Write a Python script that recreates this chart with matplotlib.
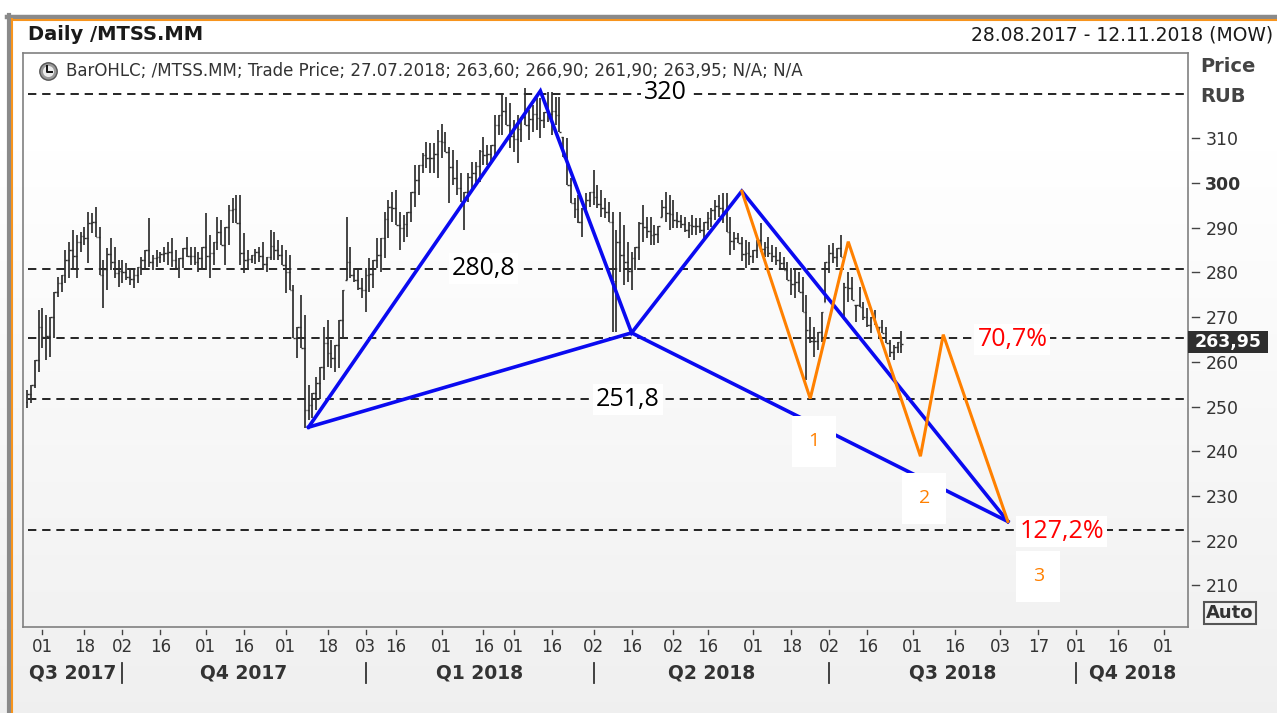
import numpy as np
import pandas as pd
import matplotlib
matplotlib.use("Agg")
import matplotlib.pyplot as plt
import matplotlib.transforms as mtransforms
from matplotlib.lines import Line2D
from matplotlib.patches import Rectangle

# ------------------------------------------------------------------ data
holidays = ["2017-11-06", "2018-01-01", "2018-01-02", "2018-01-08", "2018-02-23",
            "2018-03-08", "2018-05-01", "2018-05-09", "2018-06-12"]
first_day, last_day, axis_end = "2017-08-28", "2018-07-27", "2018-11-16"

highs = [
    253.8, 254.9, 260.5, 271.7, 272.1, 270.5, 270.1, 275.7, 279.0, 279.5,
    285.0, 286.8, 289.5, 288.4, 289.0, 290.2, 293.5, 293.3, 294.6, 290.2,
    282.8, 285.5, 287.7, 285.7, 282.8, 282.8, 282.1, 281.0, 280.6, 281.3,
    283.5, 285.0, 292.2, 284.0, 285.0, 284.6, 285.7, 286.8, 287.7, 285.0,
    283.3, 285.5, 288.0, 285.7, 285.7, 284.6, 285.7, 293.3, 288.4, 286.8,
    292.4, 291.7, 290.2, 295.1, 296.7, 297.3, 297.3, 288.8, 285.0, 284.0,
    285.2, 285.7, 286.8, 283.5, 289.5, 289.1, 287.3, 286.2, 285.0, 284.0,
    277.2, 267.9, 275.0, 270.5, 254.9, 253.1, 256.7, 258.9, 267.9, 269.4,
    265.0, 263.8, 269.4, 276.1, 292.4, 285.7, 281.0, 280.6, 278.8, 281.0,
    283.3, 282.8, 287.7, 287.7, 293.5, 296.2, 298.0, 298.4, 293.5, 292.9,
    293.5, 298.0, 304.0, 304.0, 306.7, 309.2, 309.0, 309.0, 311.8, 313.2,
    311.4, 308.0, 307.4, 305.1, 302.2, 298.0, 302.2, 304.7, 304.7, 307.4,
    310.3, 308.5, 308.5, 315.2, 315.2, 319.6, 319.2, 317.9, 314.1, 315.2,
    314.7, 321.2, 316.3, 317.4, 319.0, 319.0, 315.8, 320.3, 320.3, 319.2,
    319.2, 310.3, 310.0, 301.1, 296.7, 297.3, 294.4, 297.8, 298.0, 302.9,
    299.6, 298.4, 296.7, 295.8, 293.5, 289.5, 293.5, 290.6, 286.8, 284.6,
    285.7, 291.3, 295.1, 292.4, 292.4, 290.6, 290.4, 296.2, 298.0, 297.3,
    296.2, 293.5, 292.9, 292.4, 291.3, 292.9, 292.2, 292.2, 291.3, 293.5,
    294.4, 296.2, 297.3, 297.8, 297.8, 292.4, 289.1, 288.8, 288.0, 287.3,
    286.8, 285.0, 287.3, 291.1, 286.8, 288.0, 286.2, 285.7, 284.6, 283.5,
    282.4, 281.0, 280.6, 280.1, 279.0, 275.0, 270.1, 267.9, 266.7, 271.2,
    282.4, 286.2, 286.6, 285.5, 288.4, 277.7, 280.1, 279.0, 272.8, 276.8,
    273.4, 272.1, 270.1, 271.7, 267.9, 269.4, 267.9, 265.0, 263.8, 264.5,
    266.9]

lows = [
    249.7, 250.9, 254.2, 257.8, 263.2, 260.5, 261.2, 265.4, 274.6, 275.7,
    277.7, 278.8, 280.6, 278.8, 284.6, 286.2, 282.1, 288.8, 288.0, 279.5,
    272.1, 276.1, 280.6, 278.8, 276.8, 277.7, 278.3, 277.2, 276.6, 277.7,
    279.5, 280.6, 281.3, 280.6, 281.3, 282.1, 282.4, 281.7, 281.3, 280.6,
    278.8, 281.0, 283.5, 281.7, 281.7, 280.1, 280.6, 280.6, 278.8, 281.7,
    285.0, 286.2, 281.7, 286.2, 291.1, 291.1, 281.7, 279.9, 280.6, 282.1,
    281.9, 282.4, 280.6, 280.1, 282.8, 282.8, 282.8, 281.7, 275.4, 276.1,
    265.4, 260.9, 263.2, 245.3, 247.1, 247.5, 249.3, 251.6, 256.0, 258.9,
    258.7, 257.8, 258.7, 265.4, 278.3, 278.8, 277.9, 276.1, 274.3, 271.2,
    275.7, 276.6, 281.0, 280.1, 283.3, 287.7, 291.3, 290.6, 285.0, 286.8,
    288.0, 291.3, 294.6, 297.3, 302.2, 303.3, 302.2, 302.2, 301.1, 305.6,
    306.9, 295.5, 299.6, 297.3, 295.8, 289.5, 295.8, 298.0, 299.6, 300.2,
    304.0, 304.0, 304.5, 305.6, 310.7, 310.7, 312.9, 307.8, 306.9, 304.5,
    309.2, 312.9, 309.6, 311.4, 311.8, 310.0, 312.3, 313.6, 310.7, 312.9,
    311.4, 305.8, 299.6, 295.5, 292.2, 291.1, 288.0, 293.3, 294.6, 295.1,
    294.4, 292.4, 292.2, 291.3, 266.7, 266.7, 280.1, 277.2, 277.9, 276.1,
    280.6, 282.8, 286.8, 287.7, 286.2, 286.2, 286.6, 292.4, 291.3, 289.5,
    290.0, 290.0, 290.0, 289.1, 287.7, 288.4, 288.4, 288.8, 287.7, 289.5,
    290.2, 291.7, 292.4, 291.1, 289.1, 283.9, 285.0, 286.6, 282.5, 281.0,
    281.7, 282.1, 283.3, 284.6, 283.5, 283.5, 282.4, 281.7, 281.0, 280.6,
    278.3, 275.0, 274.3, 275.7, 271.2, 256.0, 264.3, 261.2, 262.7, 264.5,
    273.4, 279.9, 282.1, 281.3, 283.5, 269.4, 273.4, 273.9, 269.0, 272.3,
    269.4, 267.9, 266.5, 268.3, 265.4, 266.5, 264.3, 261.2, 260.5, 262.1,
    261.9]

opens = [
    251.0, 252.9, 254.9, 260.5, 267.7, 265.5, 265.7, 270.1, 275.7, 277.6,
    279.5, 282.8, 285.1, 283.6, 286.8, 288.2, 287.8, 291.1, 291.3, 288.0,
    279.5, 280.8, 284.2, 282.3, 279.8, 280.3, 280.2, 279.1, 278.6, 279.5,
    281.3, 282.8, 285.0, 282.3, 283.2, 283.4, 284.1, 284.3, 284.5, 282.8,
    281.1, 283.3, 285.5, 283.7, 283.7, 282.4, 283.2, 285.7, 283.6, 284.3,
    286.8, 289.0, 286.2, 290.2, 293.9, 294.2, 291.1, 284.4, 282.8, 283.1,
    284.0, 284.6, 283.7, 281.8, 283.5, 286.0, 285.1, 284.0, 281.7, 280.1,
    276.1, 265.4, 267.9, 263.2, 249.3, 250.3, 253.0, 255.3, 258.9, 264.2,
    261.9, 260.8, 263.8, 269.4, 278.3, 282.3, 279.5, 278.4, 276.6, 276.1,
    279.5, 279.7, 282.8, 283.9, 287.7, 292.0, 294.7, 294.5, 290.6, 289.9,
    290.8, 293.5, 298.0, 300.7, 304.0, 306.3, 305.6, 305.6, 306.5, 309.4,
    309.2, 306.9, 303.5, 301.2, 299.0, 295.8, 298.0, 301.4, 302.2, 303.8,
    307.2, 306.3, 306.5, 308.5, 313.0, 315.2, 316.1, 312.9, 310.5, 309.9,
    312.0, 314.7, 313.0, 314.4, 315.4, 314.5, 314.1, 315.8, 315.5, 316.1,
    315.3, 310.3, 305.8, 299.6, 295.5, 294.2, 291.2, 294.4, 296.3, 298.0,
    297.0, 295.4, 294.5, 293.6, 291.3, 278.1, 286.8, 283.9, 282.4, 280.4,
    283.2, 285.7, 291.0, 290.1, 289.3, 288.4, 288.5, 292.4, 294.7, 293.4,
    293.1, 291.8, 291.5, 290.8, 289.5, 290.7, 290.3, 290.5, 289.5, 291.3,
    292.3, 294.0, 294.9, 294.5, 293.5, 289.1, 287.1, 287.7, 286.6, 284.2,
    284.3, 283.6, 285.0, 287.3, 285.2, 285.8, 284.3, 283.7, 282.8, 282.1,
    280.6, 278.3, 277.5, 277.9, 275.7, 271.2, 267.2, 264.6, 264.7, 266.7,
    273.4, 282.4, 284.4, 283.4, 285.5, 277.7, 276.8, 276.5, 272.8, 272.8,
    272.3, 270.0, 268.3, 270.0, 267.9, 267.9, 266.5, 264.3, 262.2, 263.3,
    263.6]

closes = [
    252.9, 254.9, 260.5, 267.7, 265.5, 265.7, 270.1, 275.7, 277.6, 279.5,
    282.8, 285.1, 283.6, 286.8, 288.2, 287.8, 291.1, 291.3, 288.0, 279.5,
    280.8, 284.2, 282.3, 279.8, 280.3, 280.2, 279.1, 278.6, 279.5, 281.3,
    282.8, 285.0, 282.3, 283.2, 283.4, 284.1, 284.3, 284.5, 282.8, 281.1,
    283.3, 285.5, 283.7, 283.7, 282.4, 283.2, 285.7, 283.6, 284.3, 286.8,
    289.0, 286.2, 290.2, 293.9, 294.2, 291.1, 284.4, 282.8, 283.1, 284.0,
    284.6, 283.7, 281.8, 283.5, 286.0, 285.1, 284.0, 281.7, 280.1, 276.1,
    265.4, 267.9, 263.2, 249.3, 250.3, 253.0, 255.3, 258.9, 264.2, 261.9,
    260.8, 263.8, 269.4, 276.1, 282.3, 279.5, 278.4, 276.6, 276.1, 279.5,
    279.7, 282.8, 283.9, 287.7, 292.0, 294.7, 294.5, 290.6, 289.9, 290.8,
    293.5, 298.0, 300.7, 304.0, 306.3, 305.6, 305.6, 306.5, 309.4, 309.2,
    306.9, 303.5, 301.2, 299.0, 295.8, 298.0, 301.4, 302.2, 303.8, 307.2,
    306.3, 306.5, 308.5, 313.0, 315.2, 316.1, 312.9, 310.5, 309.9, 312.0,
    314.7, 313.0, 314.4, 315.4, 314.5, 314.1, 315.8, 315.5, 316.1, 315.3,
    311.4, 305.8, 299.6, 295.5, 294.2, 291.2, 294.4, 296.3, 298.0, 297.0,
    295.4, 294.5, 293.6, 291.3, 278.1, 286.8, 283.9, 282.4, 280.4, 283.2,
    285.7, 291.0, 290.1, 289.3, 288.4, 288.5, 290.4, 294.7, 293.4, 293.1,
    291.8, 291.5, 290.8, 289.5, 290.7, 290.3, 290.5, 289.5, 291.3, 292.3,
    294.0, 294.9, 294.5, 293.5, 289.1, 287.1, 287.7, 286.6, 284.2, 284.3,
    283.6, 285.0, 287.3, 285.2, 285.8, 284.3, 283.7, 282.8, 282.1, 280.6,
    278.3, 277.5, 277.9, 275.7, 271.2, 267.2, 264.6, 264.7, 266.7, 271.2,
    282.4, 284.4, 283.4, 285.5, 283.5, 276.8, 276.5, 273.9, 272.8, 272.3,
    270.0, 268.3, 270.0, 268.3, 267.9, 266.5, 264.3, 262.2, 263.3, 264.4,
    263.95]

# harmonic pattern (blue) X, A, B, C, D
blue_dates = ["2017-12-11", "2018-03-13", "2018-04-16", "2018-05-29", "2018-09-05"]
blue_prices = [245.4, 320.6, 266.5, 298.2, 224.3]
# orange wave path
orange_dates = ["2018-05-29", "2018-06-25", "2018-07-09", "2018-08-03", "2018-08-13", "2018-09-05"]
orange_prices = [298.2, 251.8, 286.9, 238.9, 266.1, 224.3]

levels = [320.0, 280.8, 265.4, 251.8, 222.4]
level_labels = ["320", "280,8", "251,8"]
level_label_dates = ["2018-04-27", "2018-02-16", "2018-04-13"]
level_label_prices = [320.3, 280.8, 251.5]
pct_labels = ["70,7%", "127,2%"]
pct_label_dates = ["2018-08-24", "2018-09-10"]
pct_label_prices = [265.1, 222.0]
wave_labels = ["1", "2", "3"]
wave_label_dates = ["2018-06-26", "2018-08-06", "2018-09-17"]
wave_label_prices = [242.3, 229.5, 212.1]

tick_dates = ["2017-09-01", "2017-09-18", "2017-10-02", "2017-10-16", "2017-11-01",
              "2017-11-16", "2017-12-01", "2017-12-18", "2018-01-03", "2018-01-16",
              "2018-02-01", "2018-02-16", "2018-03-01", "2018-03-16", "2018-04-02",
              "2018-04-16", "2018-05-02", "2018-05-16", "2018-06-01", "2018-06-18",
              "2018-07-02", "2018-07-16", "2018-08-01", "2018-08-16", "2018-09-03",
              "2018-09-17", "2018-10-01", "2018-10-16", "2018-11-01"]
quarter_starts = ["2017-10-01", "2018-01-01", "2018-04-01", "2018-07-01", "2018-10-01"]
quarter_labels = ["Q3 2017", "Q4 2017", "Q1 2018", "Q2 2018", "Q3 2018", "Q4 2018"]
y_ticks = [210, 220, 230, 240, 250, 260, 270, 280, 290, 300, 310]
last_price = 263.95
legend_text = ("BarOHLC; /MTSS.MM; Trade Price; 27.07.2018; 263,60; 266,90; "
               "261,90; 263,95; N/A; N/A")

# ------------------------------------------------------------------ calendar axis
hol = pd.to_datetime(holidays)
trade_days = pd.bdate_range(first_day, last_day)
trade_days = trade_days[~trade_days.isin(hol)]
future_days = pd.bdate_range(pd.Timestamp(last_day) + pd.offsets.BDay(1), axis_end)
calendar = trade_days.append(future_days)
pos_of = {d: i for i, d in enumerate(calendar)}


def xpos(d):
    return pos_of[pd.Timestamp(d)]


x = np.array([xpos(d) for d in trade_days], dtype=float)
highs = np.array(highs); lows = np.array(lows)
opens = np.array(opens); closes = np.array(closes)

# ------------------------------------------------------------------ figure
W, H = 1277, 713
fig = plt.figure(figsize=(W / 100, H / 100), dpi=100)
fig.patch.set_facecolor("white")


def fx(px):
    return px / W


def fy(py):
    return 1 - py / H


# background gradient
bg = fig.add_axes([0, 0, 1, 1], zorder=0)
bg.set_axis_off()
rows = np.arange(H)
t = np.clip((rows - 150) / (H - 150), 0, 1)
shade = 1 - t * 0.06
grad = np.repeat(shade[:, None, None], 3, axis=2)
bg.imshow(grad, aspect="auto", extent=[0, 1, 0, 1], origin="upper")
bg.set_xlim(0, 1); bg.set_ylim(0, 1)

# frame
fig.add_artist(Line2D([fx(7), 1.0], [fy(16.5), fy(16.5)], transform=fig.transFigure,
                      color="#8a8a8a", lw=3.2, zorder=1))
fig.add_artist(Line2D([fx(11), 1.0], [fy(20.2), fy(20.2)], transform=fig.transFigure,
                      color="#f7941d", lw=1.5, zorder=1))
fig.add_artist(Line2D([fx(9), fx(9)], [fy(14.5), 0], transform=fig.transFigure,
                      color="#8a8a8a", lw=3.0, zorder=1))
fig.add_artist(Line2D([fx(12.3), fx(12.3)], [fy(19), 0], transform=fig.transFigure,
                      color="#f7941d", lw=1.5, zorder=1))

# main axes
L, R, T, B = 23, 1188, 53, 627
ax = fig.add_axes([fx(L), fy(B), fx(R) - fx(L), fy(T) - fy(B)], zorder=2)
ax.set_facecolor("none")
for s in ax.spines.values():
    s.set_color("#808080")
    s.set_linewidth(1.2)
ax.set_xlim(-1.13, 305.4)
ax.set_ylim(200.7, 329.1)
axw, axh = R - L, B - T

BAR = "#2e2e2e"
ax.vlines(x, lows, highs, colors=BAR, lw=1.25, zorder=3)
ax.hlines(opens, x - 0.45, x, colors=BAR, lw=1.0, zorder=3)
ax.hlines(closes, x, x + 0.45, colors=BAR, lw=1.0, zorder=3)

for lv in levels:
    ax.axhline(lv, xmin=0.004, xmax=0.9975, color="black", lw=1.2,
               dashes=(5.0, 3.5), zorder=2)

# blue pattern
bx = [xpos(d) for d in blue_dates]
BLUE = "#0a0af0"
ax.plot(bx, blue_prices, color=BLUE, lw=2.6, zorder=4, solid_joinstyle="miter")
ax.plot([bx[0], bx[2], bx[4]], [blue_prices[0], blue_prices[2], blue_prices[4]],
        color=BLUE, lw=2.6, zorder=4, solid_joinstyle="miter")
# orange path
ox = [xpos(d) for d in orange_dates]
ORANGE = "#ff8000"
ax.plot(ox, orange_prices, color=ORANGE, lw=2.2, zorder=4.5, solid_joinstyle="miter")

ANN_FONT = ["Open Sans", "DejaVu Sans"]
for lab, d, p in zip(level_labels, level_label_dates, level_label_prices):
    ax.text(xpos(d), p, lab, ha="center", va="center", fontsize=18, family=ANN_FONT,
            color="black", zorder=6,
            bbox=dict(boxstyle="square,pad=0.12", fc="white", ec="none"))
for lab, d, p in zip(pct_labels, pct_label_dates, pct_label_prices):
    ax.text(xpos(d), p, lab, ha="left", va="center", fontsize=18, family=ANN_FONT,
            color="#ff0000", zorder=6,
            bbox=dict(boxstyle="square,pad=0.12", fc="white", ec="none"))
for lab, d, p in zip(wave_labels, wave_label_dates, wave_label_prices):
    ax.text(xpos(d), p, lab, ha="center", va="center", fontsize=14, family=ANN_FONT,
            color=ORANGE, zorder=7,
            bbox=dict(boxstyle="square,pad=0.85", fc="white", ec="none"))

# legend line with clock icon
ax.text((66 - L) / axw, (B - 71) / axh, legend_text, transform=ax.transAxes,
        ha="left", va="center", fontsize=12, color="#333333", zorder=6)
fig.add_artist(Line2D([fx(48)], [fy(71)], transform=fig.transFigure, marker="o",
                      markersize=12.5, markerfacecolor="#9a9a9a",
                      markeredgecolor="#555555", markeredgewidth=1.0, zorder=5))
fig.add_artist(Line2D([fx(48)], [fy(71)], transform=fig.transFigure, marker="o",
                      markersize=8.0, markerfacecolor="#ececec",
                      markeredgecolor="none", zorder=5))
fig.add_artist(Line2D([fx(47.5), fx(47.5), fx(52)], [fy(65.5), fy(71.5), fy(71.5)],
                      transform=fig.transFigure, color="#111111", lw=1.4, zorder=5))

# y axis (right)
ax.yaxis.tick_right()
ax.set_yticks(y_ticks)
ax.set_yticklabels([str(v) for v in y_ticks])
ax.tick_params(axis="y", length=0, pad=12.5, labelsize=12.5, labelcolor="#333333")
for lbl in ax.get_yticklabels():
    if lbl.get_text() == "300":
        lbl.set_fontweight("bold")
ytr = mtransforms.blended_transform_factory(ax.transAxes, ax.transData)
for v in y_ticks:
    ax.plot([1 + 4 / axw, 1 + 11 / axw], [v, v], transform=ytr, color="#444444",
            lw=1.0, clip_on=False)

# last price box
bh = 11 / (axh / (329.1 - 200.7))
ax.add_patch(Rectangle((1.0, last_price - bh + 0.5), 80 / axw, 2 * bh, transform=ytr,
                       fc="#2f2f2f", ec="none", clip_on=False, zorder=8))
ax.text(1.0 + 40 / axw, last_price + 0.5, f"{last_price:.2f}".replace(".", ","),
        transform=ytr, ha="center", va="center", color="white", fontweight="bold",
        fontsize=12.5, zorder=9, clip_on=False)

# x axis
xt = [xpos(d) for d in tick_dates]
ax.set_xticks(xt)
ax.set_xticklabels([pd.Timestamp(d).strftime("%d") for d in tick_dates])
ax.tick_params(axis="x", length=0, pad=8, labelsize=12, labelcolor="#333333")
xtr = mtransforms.blended_transform_factory(ax.transData, ax.transAxes)
for p in xt:
    ax.plot([p, p], [-3 / axh, -7 / axh], transform=xtr, color="#444444", lw=1.0,
            clip_on=False)

qpos = [float(calendar.searchsorted(pd.Timestamp(d))) for d in quarter_starts]
x0, x1 = ax.get_xlim()
bounds = [x0] + qpos + [x1]
for i, lab in enumerate(quarter_labels):
    c = (bounds[i] + bounds[i + 1]) / 2
    ax.text(c, -46 / axh, lab, transform=xtr, ha="center", va="center",
            fontweight="bold", fontsize=13.5, color="#333333", clip_on=False)
for q in qpos:
    ax.plot([q, q], [-36 / axh, -56 / axh], transform=xtr, color="#333333", lw=1.3,
            clip_on=False)

# header and right captions
fig.text(fx(28), fy(35), "Daily /MTSS.MM", fontweight="bold", fontsize=14,
         va="center", ha="left", color="#1a1a1a")
fig.text(fx(1273), fy(35), "28.08.2017 - 12.11.2018 (MOW)", fontsize=13.5,
         va="center", ha="right", color="#1a1a1a")
fig.text(fx(1200), fy(67), "Price", fontweight="bold", fontsize=14, va="center",
         ha="left", color="#444444")
fig.text(fx(1200), fy(97), "RUB", fontweight="bold", fontsize=14, va="center",
         ha="left", color="#444444")
fig.text(fx(1230), fy(613), "Auto", fontweight="bold", fontsize=13, va="center",
         ha="center", color="#333333",
         bbox=dict(boxstyle="square,pad=0.12", fc="none", ec="#555555", lw=1.5))

fig.savefig("out.png", dpi=100)
